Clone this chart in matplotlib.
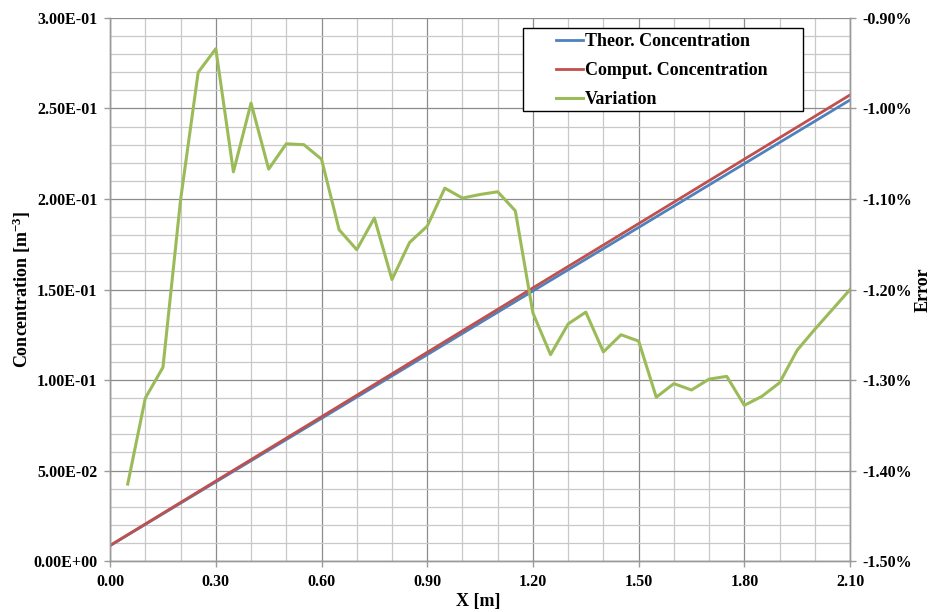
import matplotlib
matplotlib.use("Agg")
import matplotlib.pyplot as plt
from matplotlib.ticker import MultipleLocator, FuncFormatter
from matplotlib.patches import Rectangle

plt.rcParams['font.family'] = ['Liberation Serif', 'DejaVu Serif']
plt.rcParams['font.weight'] = 'bold'
plt.rcParams['mathtext.fontset'] = 'custom'
plt.rcParams['mathtext.rm'] = 'Liberation Serif:bold'
plt.rcParams['mathtext.bf'] = 'Liberation Serif:bold'
plt.rcParams['mathtext.it'] = 'Liberation Serif:bold'

# Concentration profiles along X (sampled at the major ticks)
x_conc = [0.00, 0.30, 0.60, 0.90, 1.20, 1.50, 1.80, 2.10]
theor_conc = [0.0085, 0.0437, 0.0788, 0.1140, 0.1492, 0.1843, 0.2195, 0.2547]
comput_conc = [0.0086, 0.0442, 0.0797, 0.1153, 0.1509, 0.1864, 0.2220, 0.2575]

# Relative error between computed and theoretical concentration (%)
x_var = [0.05, 0.10, 0.15, 0.20, 0.25, 0.30, 0.35, 0.40, 0.45, 0.50,
         0.55, 0.60, 0.65, 0.70, 0.75, 0.80, 0.85, 0.90, 0.95, 1.00,
         1.05, 1.10, 1.15, 1.20, 1.25, 1.30, 1.35, 1.40, 1.45, 1.50,
         1.55, 1.60, 1.65, 1.70, 1.75, 1.80, 1.85, 1.90, 1.95, 2.00,
         2.05, 2.10]
variation = [-1.415, -1.320, -1.286, -1.101, -0.960, -0.934, -1.070, -0.994, -1.067, -1.039,
             -1.040, -1.056, -1.134, -1.156, -1.121, -1.189, -1.148, -1.130, -1.088, -1.099,
             -1.095, -1.092, -1.113, -1.226, -1.272, -1.238, -1.225, -1.269, -1.250, -1.257,
             -1.319, -1.304, -1.311, -1.299, -1.296, -1.328, -1.318, -1.303, -1.267, -1.244,
             -1.222, -1.200]

x_ticks = [0.00, 0.30, 0.60, 0.90, 1.20, 1.50, 1.80, 2.10]

BLUE = '#4F81BD'
RED = '#C0504D'
GREEN = '#9BBB59'
AXIS_GRAY = '#9a9a9a'

fig = plt.figure(figsize=(9.33, 6.12), dpi=100)
ax = fig.add_axes([0.118, 0.0833, 0.7931, 0.8873])
ax2 = ax.twinx()

# grid: fine grey lines every 0.10 / 0.01, darker at the labelled values
ax.set_xlim(0, 2.10)
ax.set_ylim(0, 0.30)
ax.xaxis.set_major_locator(MultipleLocator(0.30))
ax.xaxis.set_minor_locator(MultipleLocator(0.10))
ax.yaxis.set_major_locator(MultipleLocator(0.05))
ax.yaxis.set_minor_locator(MultipleLocator(0.01))
ax.grid(which='minor', color='#c8c8c8', linewidth=0.9)
ax.grid(which='major', color='#8c8c8c', linewidth=0.9)
ax.set_axisbelow(True)

l1, = ax.plot(x_conc, theor_conc, color=BLUE, linewidth=2.0, label='Theor. Concentration')
l2, = ax.plot(x_conc, comput_conc, color=RED, linewidth=2.0, label='Comput. Concentration')

ax2.set_ylim(-1.50, -0.90)
ax2.yaxis.set_major_locator(MultipleLocator(0.10))
l3, = ax2.plot(x_var, variation, color=GREEN, linewidth=2.2, label='Variation')

ax.set_xticks(x_ticks)
ax.xaxis.set_major_formatter(FuncFormatter(lambda v, p: f"{v:.2f}"))
ax.yaxis.set_major_formatter(FuncFormatter(lambda v, p: f"{v:.2E}"))
ax2.yaxis.set_major_formatter(FuncFormatter(lambda v, p: f"{v:.2f}%"))

for a in (ax, ax2):
    a.tick_params(which='major', direction='out', length=4, width=1, color=AXIS_GRAY,
                  labelsize=11.5, pad=5)
    a.tick_params(which='minor', length=0)
    for s in a.spines.values():
        s.set_color(AXIS_GRAY)
        s.set_linewidth(1.0)
    a.spines['top'].set_visible(False)

for lab in ax.get_xticklabels() + ax.get_yticklabels() + ax2.get_yticklabels():
    lab.set_fontweight('bold')

ax.set_xlabel('X [m]', fontsize=13, fontweight='bold')
ax.set_ylabel(r'Concentration [m$^{-3}$]', fontsize=13, fontweight='bold')
ax2.set_ylabel('Error', fontsize=13, fontweight='bold')
ax.xaxis.set_label_coords(0.497, -0.059)
ax.yaxis.set_label_coords(-0.1046, 0.5)
ax2.yaxis.set_label_coords(1.087, 0.5)

# legend box
box = Rectangle((0.558, 0.8287), 0.3785, 0.1529, transform=ax2.transAxes,
                facecolor='white', edgecolor='black', linewidth=1.0, zorder=5)
ax2.add_patch(box)
leg = ax2.legend(handles=[l1, l2, l3], loc='center left',
                 bbox_to_anchor=(0.6026, 0.9030), frameon=False,
                 fontsize=13, handlelength=1.5, handletextpad=0.1,
                 labelspacing=0.65, borderpad=0.0, borderaxespad=0)
leg.set_zorder(6)
for t in leg.get_texts():
    t.set_fontweight('bold')

fig.savefig('out.png', dpi=100)
